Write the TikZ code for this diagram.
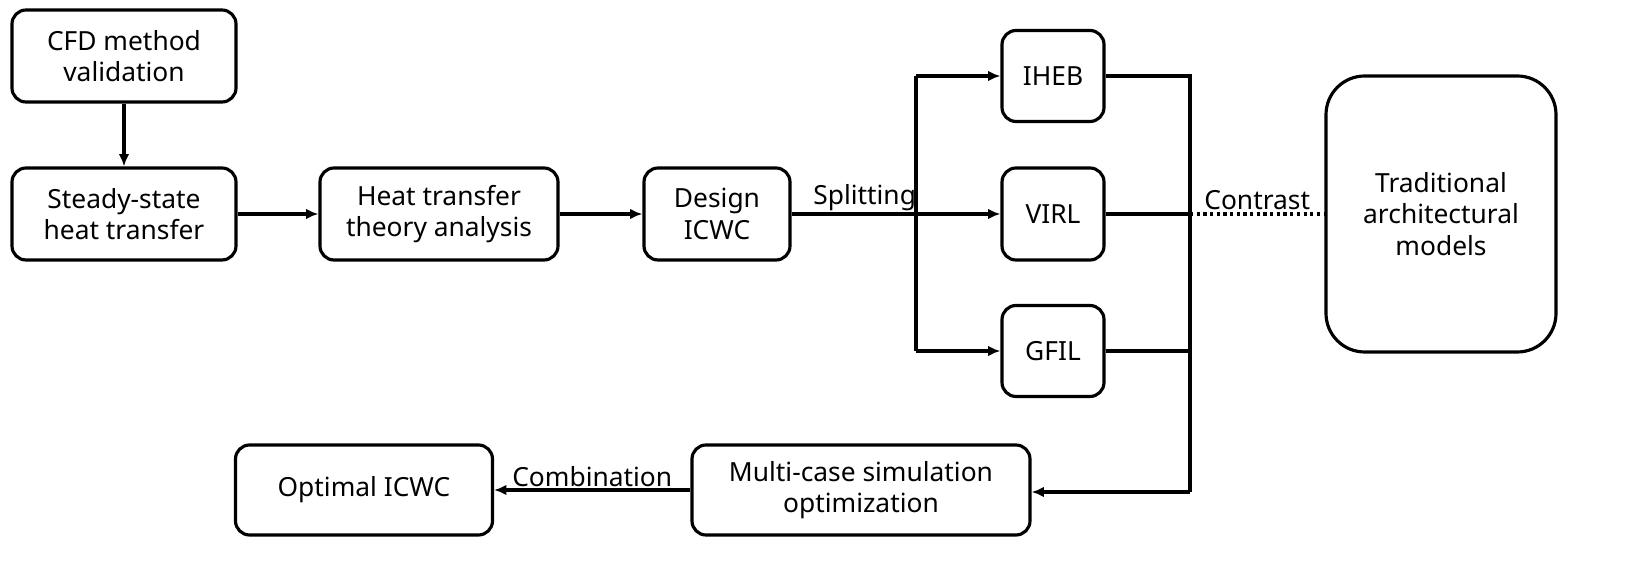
\documentclass[tikz,border=0pt]{standalone}
\usepackage{fontspec}
\setmainfont{Noto Sans}
\usetikzlibrary{arrows.meta}
\begin{document}
\begin{tikzpicture}[x=0.02cm,y=-0.02cm,
 box/.style={draw,line width=1.8pt,rounded corners=8pt,align=center,inner sep=0pt,font=\fontsize{15}{18}\selectfont},
 ln/.style={line width=1.8pt},
 ar/.style={ln,-{Latex[length=7pt,width=6pt]}},
 lb/.style={font=\fontsize{15}{18}\selectfont,inner sep=1pt}]
\node[box,minimum width=224*0.02cm,minimum height=92*0.02cm] (cfd) at (124,56) {CFD method\\validation};
\node[box,minimum width=224*0.02cm,minimum height=92*0.02cm] (ss) at (124,214) {Steady-state\\heat transfer};
\node[box,minimum width=238*0.02cm,minimum height=92*0.02cm] (ht) at (439,214) {Heat transfer\\theory analysis};
\node[box,minimum width=146*0.02cm,minimum height=92*0.02cm] (de) at (717,214) {Design\\ICWC};
\node[box,minimum width=102*0.02cm,minimum height=91*0.02cm] (ih) at (1053,76) {IHEB};
\node[box,minimum width=102*0.02cm,minimum height=92*0.02cm] (vi) at (1053,214) {VIRL};
\node[box,minimum width=102*0.02cm,minimum height=91*0.02cm] (gf) at (1053,351) {GFIL};
\node[box,rounded corners=22pt,minimum width=230*0.02cm,minimum height=276*0.02cm] (tr) at (1441,214) {Traditional\\architectural\\models};
\node[box,minimum width=338*0.02cm,minimum height=90*0.02cm] (mc) at (861,490) {Multi-case simulation\\optimization};
\node[box,minimum width=257*0.02cm,minimum height=90*0.02cm] (op) at (364,490) {Optimal ICWC};
\coordinate (s1) at (916,76); \coordinate (s3) at (916,351);
\coordinate (b1) at (1190,76); \coordinate (b3) at (1190,492);
\draw[ar] (cfd) -- (ss);
\draw[ar] (ss) -- (ht);
\draw[ar] (ht) -- (de);
\draw[ar] (de) -- node[lb,above,pos=0.35]{Splitting} (vi);
\draw[ln] (s1) -- (s3);
\draw[ar] (s1) -- (ih);
\draw[ar] (s3) -- (gf);
\draw[ln] (ih.east) -- (b1) -- (b3);
\draw[ln] (vi.east) -- (1190,214);
\draw[ln] (gf.east) -- (1190,351);
\draw[ln,dotted,line width=2.4pt] (1190,214) -- node[lb,above,solid]{Contrast} (tr.west);
\draw[ar] (b3) -- (mc.east|-b3);
\draw[ar] (mc) -- node[lb,above]{Combination} (op);
\pgfresetboundingbox
\path[use as bounding box] (0,0) rectangle (1634,570);
\end{tikzpicture}
\end{document}
